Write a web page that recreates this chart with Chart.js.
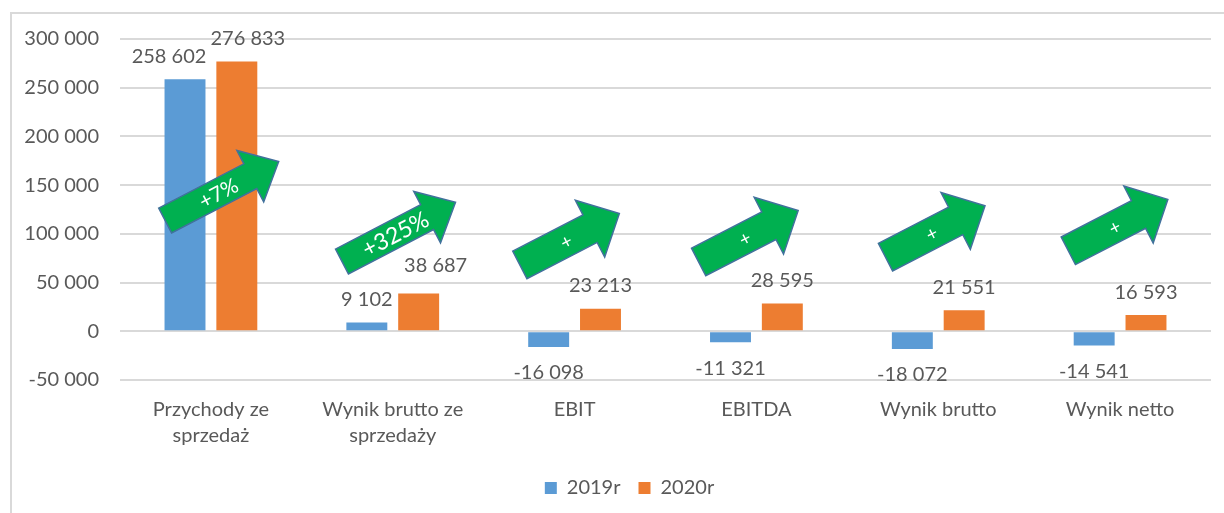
<!DOCTYPE html>
<html>
<head>
<meta charset="utf-8">
<script src="https://cdn.jsdelivr.net/npm/chart.js@4"></script>
<style>
  html, body { margin: 0; padding: 0; background: #fff; }
  #wrap { width: 1224px; height: 513px; }
</style>
</head>
<body>
<div id="wrap"><canvas id="myChart" width="1224" height="513"></canvas></div>
<script>
const categories = [
  ['Przychody ze', 'sprzedaż'],
  ['Wynik brutto ze', 'sprzedaży'],
  'EBIT',
  'EBITDA',
  'Wynik brutto',
  'Wynik netto'
];
const values2019 = [258602, 9102, -16098, -11321, -18072, -14541];
const values2020 = [276833, 38687, 23213, 28595, 21551, 16593];
const seriesNames = ['2019r', '2020r'];
const yMin = -50000;
const yMax = 300000;
const yStep = 50000;

// green "growth" arrows: category, height on the value axis, label
const arrowCats = [0, 1, 2, 3, 4, 5];
const arrowAt = [144000, 102000, 94500, 97500, 102500, 109000];
const arrowText = ['+7%', '+325%', '+', '+', '+', '+'];

const FONT = 'Lato, "Liberation Sans", sans-serif';
const TEXT = '#595959';

// thousands with a space, like "258 602"
const fmt = v => {
  const s = String(Math.abs(Math.round(v))).replace(/\B(?=(\d{3})+(?!\d))/g, ' ');
  return (v < 0 ? '-' : '') + s;
};

// little hand-placed nudges seen in the original labels
const labelShift = [
  [[-16, 0], [0, 0], [0, 0], [0, 0], [0, 0], [0, 0]],
  [[11, 0], [17, -5], [0, 0], [0, 0], [0, 0], [0, 0]]
];

const frame = {
  id: 'frame',
  beforeDraw(chart) {
    const ctx = chart.ctx;
    ctx.save();
    ctx.strokeStyle = '#D9D9D9';
    ctx.lineWidth = 2;
    ctx.strokeRect(11, 13, 1300, 600);
    ctx.restore();
  },
  afterLayout(chart) {
    // the original legend sits a bit right of the middle
    chart.legend.left += 19;
    chart.legend.right += 19;
  }
};

const valueLabels = {
  id: 'valueLabels',
  afterDatasetsDraw(chart) {
    const ctx = chart.ctx;
    ctx.save();
    ctx.font = '20px ' + FONT;
    ctx.fillStyle = TEXT;
    ctx.textAlign = 'center';
    ctx.textBaseline = 'middle';
    chart.data.datasets.forEach((ds, di) => {
      chart.getDatasetMeta(di).data.forEach((bar, i) => {
        const v = ds.data[i];
        const [sx, sy] = labelShift[di][i];
        const y = v >= 0 ? bar.y - 23 : bar.y + 26;
        ctx.fillText(fmt(v), bar.x + sx, y + sy);
      });
    });
    ctx.restore();
  }
};

function drawArrow(ctx, cx, cy, big, text) {
  const len = big ? 128 : 112;
  const shaft = big ? 28 : 31;
  const head = big ? 58 : 64;
  const headLen = big ? 32 : 33;
  const ang = big ? -27.5 * Math.PI / 180 : -27.3 * Math.PI / 180;
  const h = len / 2;
  ctx.save();
  ctx.translate(cx, cy);
  ctx.rotate(ang);
  ctx.beginPath();
  ctx.moveTo(-h, -shaft / 2);
  ctx.lineTo(h - headLen, -shaft / 2);
  ctx.lineTo(h - headLen, -head / 2);
  ctx.lineTo(h, 0);
  ctx.lineTo(h - headLen, head / 2);
  ctx.lineTo(h - headLen, shaft / 2);
  ctx.lineTo(-h, shaft / 2);
  ctx.closePath();
  ctx.fillStyle = '#00B050';
  ctx.fill();
  ctx.strokeStyle = '#41719C';
  ctx.lineWidth = 1.5;
  ctx.stroke();
  ctx.fillStyle = '#fff';
  ctx.font = (text.length > 3 ? '23px ' : (text.length > 1 ? '21px ' : '19px ')) + FONT;
  ctx.textAlign = 'center';
  ctx.textBaseline = 'middle';
  ctx.fillText(text, -4, 1);
  ctx.restore();
}

const arrowDx = [11, 6, -5, -8, -3, -2];

const arrows = {
  id: 'arrows',
  afterDatasetsDraw(chart) {
    const x = chart.scales.x, y = chart.scales.y;
    arrowCats.forEach((c, k) => {
      drawArrow(chart.ctx, x.getPixelForValue(c) + arrowDx[k], y.getPixelForValue(arrowAt[k]), k < 2, arrowText[k]);
    });
  }
};

const myChartRef = document.getElementById('myChart').getContext('2d');
new Chart(myChartRef, {
  type: 'bar',
  data: {
    labels: categories,
    datasets: [
      { label: seriesNames[0], data: values2019, backgroundColor: '#5B9BD5', categoryPercentage: 0.57, barPercentage: 0.79 },
      { label: seriesNames[1], data: values2020, backgroundColor: '#ED7D31', categoryPercentage: 0.57, barPercentage: 0.79 }
    ]
  },
  options: {
    responsive: false,
    animation: false,
    layout: { padding: { left: 10, right: 13, top: 39, bottom: 5 } },
    plugins: {
      tooltip: { enabled: false },
      legend: {
        position: 'bottom',
        labels: {
          boxWidth: 12,
          boxHeight: 12,
          padding: 18,
          color: TEXT,
          font: { family: FONT, size: 20 }
        }
      }
    },
    scales: {
      x: {
        grid: { display: false },
        border: { display: false },
        ticks: {
          color: TEXT,
          padding: 9,
          maxRotation: 0,
          autoSkip: false,
          font: { family: FONT, size: 20, lineHeight: 1.3 }
        },
        afterFit(scale) { scale.height = 80; }
      },
      y: {
        min: yMin,
        max: yMax,
        grid: { color: '#D9D9D9', lineWidth: 2, drawTicks: false },
        border: { display: false },
        ticks: {
          stepSize: yStep,
          color: TEXT,
          padding: 21,
          font: { family: FONT, size: 20 },
          callback: v => fmt(v)
        },
        afterFit(scale) { scale.width = 110; }
      }
    }
  },
  plugins: [frame, valueLabels, arrows]
});
</script>
</body>
</html>
